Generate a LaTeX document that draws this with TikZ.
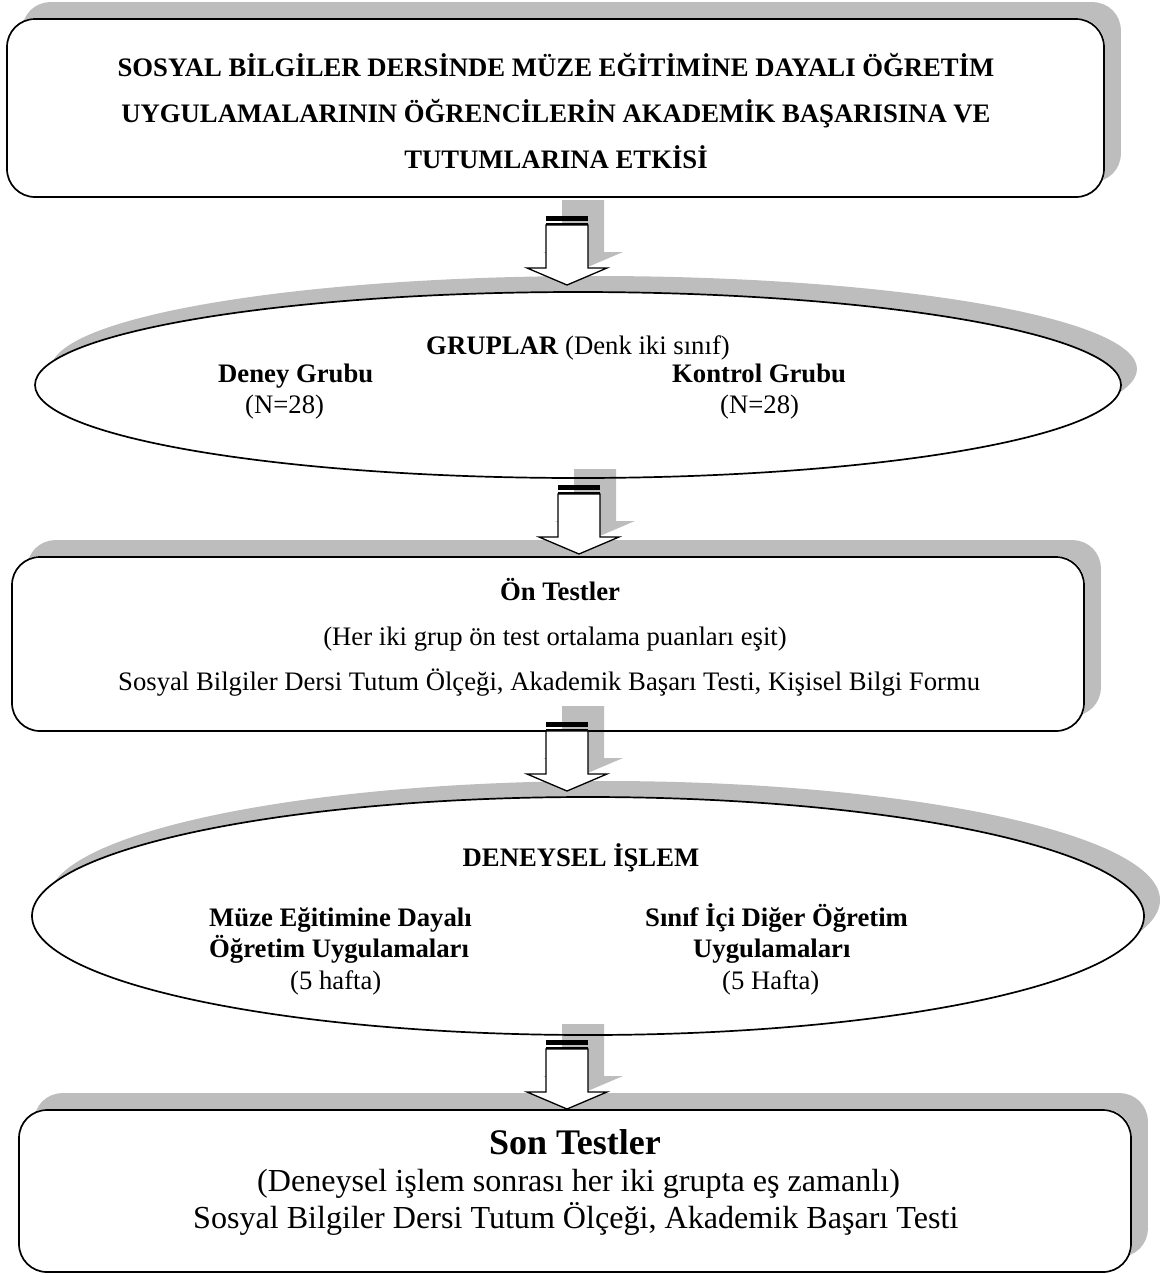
\documentclass[tikz,border=0pt]{standalone}
\usepackage{fontspec}
\setmainfont{Liberation Serif}
\usetikzlibrary{shapes.geometric}

\definecolor{shadowgray}{gray}{0.74}
\newcommand\bodysize{\fontsize{26.7}{31}\selectfont}
\newcommand\bigsize{\fontsize{32.1}{37}\selectfont}
\newcommand\headsize{\fontsize{36}{40}\selectfont}

\pgfdeclarelayer{back}
\pgfdeclarelayer{mid}
\pgfsetlayers{back,mid,main}

\tikzset{
  outline/.style={draw, line width=1.7pt, inner sep=0pt},
  panel/.style={outline, rounded corners=28pt},
  oval/.style={outline, ellipse},
  txt/.style={inner sep=0pt, font=\bodysize},
  btxt/.style={inner sep=0pt, font=\bodysize\bfseries},
  bigtxt/.style={inner sep=0pt, font=\bigsize},
  headtxt/.style={inner sep=0pt, font=\headsize\bfseries},
  % striped block arrow pointing down, origin at the top centre of its band
  pics/downarrow/.style={code={
    \begin{pgfonlayer}{mid}
      \fill[shadowgray] (-5,-16) -- (-5,36) -- (-24,36) -- (16,53) -- (56,36) -- (37,36) -- (37,-16) -- cycle;
    \end{pgfonlayer}
    \fill[black] (-21,0) rectangle (21,4.7);
    \fill[black] (-21,6.7) rectangle (21,9);
    \draw[line width=1.3pt, fill=white, line join=miter]
      (-21,9) -- (-21,52) -- (-40,52) -- (0,69) -- (40,52) -- (21,52) -- (21,9) -- cycle;
  }}
}

\begin{document}
\begin{tikzpicture}[x=1pt, y=-1pt]
\useasboundingbox (0,0) rectangle (1165,1275);

% outlined shapes
\node[panel, minimum width=1097pt, minimum height=178pt] (title) at (555.5,108) {};
\node[oval, minimum width=1086pt, minimum height=186pt] (groups) at (578,385) {};
\node[panel, minimum width=1072pt, minimum height=174pt] (pre) at (548,644) {};
\node[oval, minimum width=1112pt, minimum height=238pt] (treat) at (588,916) {};
\node[panel, minimum width=1112pt, minimum height=162pt] (post) at (575,1191) {};

% shadows and white fills behind the outlines
\begin{pgfonlayer}{back}
  \foreach \n in {title,pre,post}{
    \fill[shadowgray, rounded corners=28pt] ([shift={(16,-16)}]\n.south west) rectangle ([shift={(16,-16)}]\n.north east);
    \fill[white, rounded corners=28pt] (\n.south west) rectangle (\n.north east);
  }
  \fill[shadowgray] ([shift={(16,-16)}]groups.center) ellipse [x radius=543pt, y radius=93pt];
  \fill[white] (groups.center) ellipse [x radius=543pt, y radius=93pt];
  \fill[shadowgray] ([shift={(16,-16)}]treat.center) ellipse [x radius=556pt, y radius=119pt];
  \fill[white] (treat.center) ellipse [x radius=556pt, y radius=119pt];
\end{pgfonlayer}

% block arrows between the stages
\pic (ar1) at (567,216) {downarrow};
\pic (ar2) at (579,485) {downarrow};
\pic (ar3) at (567,722) {downarrow};
\pic (ar4) at (567,1040) {downarrow};

% title
\node[btxt, anchor=base] (t1) at (556,76) {SOSYAL BİLGİLER DERSİNDE MÜZE EĞİTİMİNE DAYALI ÖĞRETİM};
\node[btxt, anchor=base] (t2) at (556,122) {UYGULAMALARININ ÖĞRENCİLERİN AKADEMİK BAŞARISINA VE};
\node[btxt, anchor=base] (t3) at (556,168) {TUTUMLARINA ETKİSİ};

% groups
\node[txt, anchor=base] (g0) at (578,354) {\textbf{GRUPLAR} (Denk iki sınıf)};
\node[btxt, anchor=base west] (g1) at (218,382) {Deney Grubu};
\node[txt, anchor=base west] (g2) at (245,413) {(N=28)};
\node[btxt, anchor=base west] (g3) at (672,382) {Kontrol Grubu};
\node[txt, anchor=base west] (g4) at (720,413) {(N=28)};

% pre-tests
\node[btxt, anchor=base] (p1) at (560,600) {Ön Testler};
\node[txt, anchor=base] (p2) at (555,645) {(Her iki grup ön test ortalama puanları eşit)};
\node[txt, anchor=base west] (p3) at (118,690) {Sosyal Bilgiler Dersi Tutum Ölçeği, Akademik Başarı Testi, Kişisel Bilgi Formu};

% experimental process
\node[btxt, anchor=base] (d0) at (581,866) {DENEYSEL İŞLEM};
\node[btxt, anchor=base west] (d1) at (209,926) {Müze Eğitimine Dayalı};
\node[btxt, anchor=base west] (d2) at (209,957) {Öğretim Uygulamaları};
\node[txt, anchor=base west] (d3) at (290,989) {(5 hafta)};
\node[btxt, anchor=base west] (d4) at (645,926) {Sınıf İçi Diğer Öğretim};
\node[btxt, anchor=base west] (d5) at (693,957) {Uygulamaları};
\node[txt, anchor=base west] (d6) at (722,989) {(5 Hafta)};

% post-tests
\node[headtxt, anchor=base] (s1) at (575,1154) {Son Testler};
\node[bigtxt, anchor=base west] (s2) at (257,1191) {(Deneysel işlem sonrası her iki grupta eş zamanlı)};
\node[bigtxt, anchor=base west] (s3) at (193,1228) {Sosyal Bilgiler Dersi Tutum Ölçeği, Akademik Başarı Testi};
\end{tikzpicture}
\end{document}
